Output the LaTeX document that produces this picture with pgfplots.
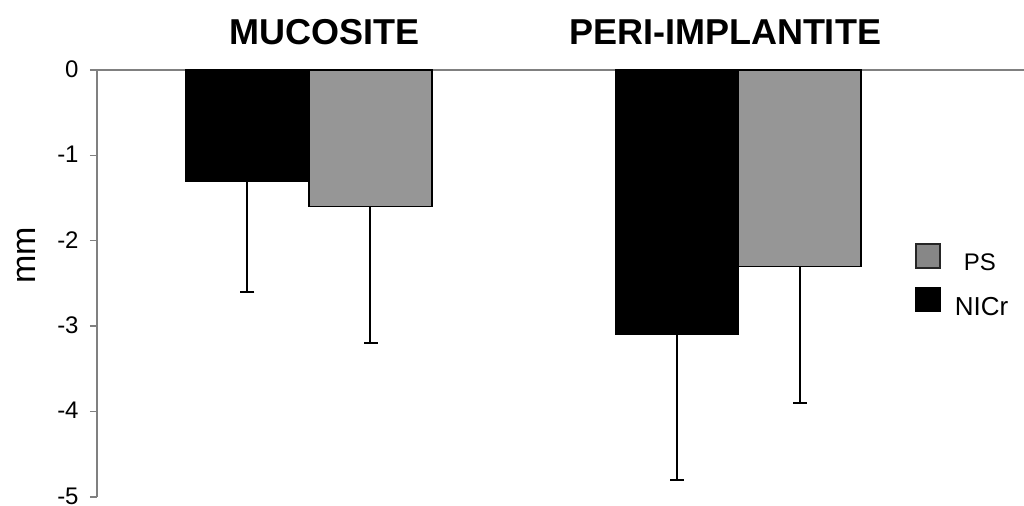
\documentclass[border=0pt]{standalone}
\usepackage{fontspec}
\setmainfont{Liberation Sans}
\usepackage{pgfplots}
\pgfplotsset{compat=1.18}
\definecolor{psgray}{RGB}{150,150,150}
\definecolor{legendgray}{RGB}{135,135,135}
\definecolor{axgray}{RGB}{128,128,128}
\begin{document}
\begin{tikzpicture}
\useasboundingbox (-48.5pt,-4.5pt) rectangle (463.5pt,248.5pt);
\begin{axis}[
  at={(0,0)}, anchor=south west,
  scale only axis, width=463.5pt, height=213.5pt,
  xmin=0, xmax=927, ymin=-5, ymax=0,
  clip=false,
  axis x line*=top, axis y line*=left,
  axis line style={axgray, line width=0.7pt},
  xtick=\empty,
  ytick={-5,-4,-3,-2,-1,0},
  tick align=outside,
  major tick length=3.5pt,
  tick style={axgray, line width=0.7pt},
  yticklabel style={font=\fontsize{12}{14}\selectfont, inner sep=0.5pt, xshift=-5pt, yshift=0.5pt},
  /pgf/number format/assume math mode=true,
  ylabel={mm},
  ylabel style={font=\fontsize{17}{19}\selectfont, at={(rel axis cs:-0.0766,0.566)}, anchor=center},
  legend style={at={(axis cs:818,-2.026)}, anchor=north west, draw=none, fill=none,
    inner sep=0pt, row sep=6.5pt, column sep=0pt, nodes={inner sep=0pt}},
  legend cell align=left,
  legend image code/.code={\draw[#1, line width=0.7pt] (0pt,-2pt) rectangle (12pt,10pt);},
  error bars/y dir=minus,
  error bars/y explicit,
  error bars/error bar style={black, line width=1pt},
  error bars/error mark options={black, rotate=90, mark size=3.5pt, line width=1pt},
]
% legend keys (PS listed first)
\addlegendimage{fill=legendgray, draw=black!85}
\addlegendentry{\fontsize{12}{14}\selectfont\hspace*{11.5pt}PS}
\addlegendimage{fill=black, draw=black}
\addlegendentry{\fontsize{13}{15}\selectfont\hspace*{7pt}NICr}

% NiCr bars
\addplot[ybar, bar width=123, bar shift=0pt, fill=black, draw=black, line width=0.5pt, forget plot]
  coordinates {(150.5,-1.3) +- (0,1.3) (579.5,-3.1) +- (0,1.7)};
% PS bars
\addplot[ybar, bar width=123, bar shift=0pt, fill=psgray, draw=black, line width=0.8pt, forget plot]
  coordinates {(273.5,-1.6) +- (0,1.6) (702.5,-2.3) +- (0,1.6)};

% group titles
\node[font=\fontsize{18}{20}\selectfont\bfseries] at (axis cs:228,0.44) {MUCOSITE};
\node[font=\fontsize{18}{20}\selectfont\bfseries] at (axis cs:628,0.44) {PERI-IMPLANTITE};
\end{axis}
\end{tikzpicture}
\end{document}
